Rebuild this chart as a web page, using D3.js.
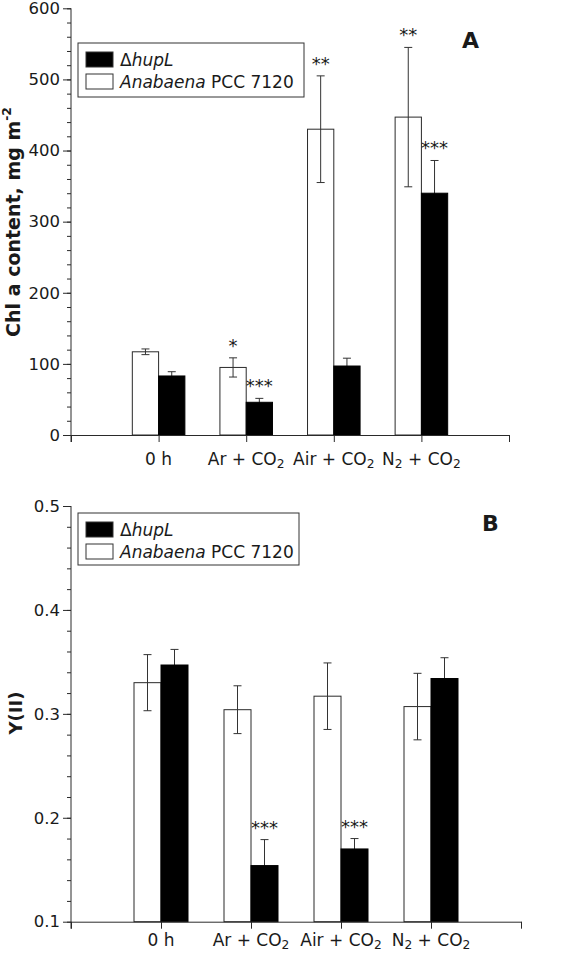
<!DOCTYPE html>
<html>
<head>
<meta charset="utf-8">
<script src="https://cdn.jsdelivr.net/npm/d3@7"></script>
<style>
  html, body { margin: 0; padding: 0; background: #fff; }
  svg { display: block; }
  text { font-family: "DejaVu Sans", sans-serif; fill: #1a1a1a; }
</style>
</head>
<body>
<svg id="chart" width="566" height="953"></svg>
<script>
// ---------- data ----------
const categories = ["0 h", "Ar + CO2", "Air + CO2", "N2 + CO2"];
const seriesNames = ["\u0394hupL", "Anabaena PCC 7120"];

// Panel A: Chl a content (mg m-2)
const chlWT = [117, 95, 430, 447];
const chlWTErr = [4, 13.5, 75, 98];
const chlHup = [83, 46, 97, 340];
const chlHupErr = [6, 5.5, 11, 46];
const chlStarsWT = ["", "*", "**", "**"];
const chlStarsHup = ["", "***", "", "***"];
const chlTicks = [0, 100, 200, 300, 400, 500, 600];

// Panel B: Y(II)
const yWT = [0.330, 0.304, 0.317, 0.307];
const yWTErr = [0.027, 0.023, 0.032, 0.032];
const yHup = [0.347, 0.154, 0.170, 0.334];
const yHupErr = [0.015, 0.025, 0.010, 0.020];
const yStarsWT = ["", "", "", ""];
const yStarsHup = ["", "***", "***", ""];
const yTicks = [0.1, 0.2, 0.3, 0.4, 0.5];

// ---------- drawing ----------
const svg = d3.select("#chart");
const AX = "#2a2a2a";

function addLabel(sel, str, fs) {
  const pieces = [];
  let buf = "";
  str.replace(/([A-Za-z])(\d)|([^])/g, (m, l, d, o) => {
    if (l) { buf += l; pieces.push({t: buf, sub: false}); buf = ""; pieces.push({t: d, sub: true}); }
    else buf += o;
    return m;
  });
  if (buf) pieces.push({t: buf, sub: false});
  let prevSub = false;
  pieces.forEach(p => {
    const ts = sel.append("tspan").text(p.t);
    if (p.sub) { ts.attr("font-size", fs * 0.72).attr("dy", fs * 0.15); prevSub = true; }
    else if (prevSub) { ts.attr("dy", -fs * 0.15); prevSub = false; }
  });
}

function panel(cfg) {
  const g = svg.append("g");
  const x = d3.scaleLinear().domain([0, 5]).range([cfg.x0, cfg.x1]);
  const y = d3.scaleLinear().domain(cfg.yDomain).range([cfg.yBottom, cfg.yTop]);
  const bw = (x(1) - x(0)) * 0.3;

  // minor y ticks
  const minor = d3.range(cfg.yDomain[0], cfg.yDomain[1] + cfg.minorStep / 2, cfg.minorStep);
  g.append("g").attr("transform", `translate(${cfg.x0},0)`)
    .call(d3.axisLeft(y).tickValues(minor).tickSize(4).tickFormat("").tickSizeOuter(0))
    .call(s => s.select(".domain").remove())
    .call(s => s.selectAll("line").attr("stroke", AX));

  // major y axis
  g.append("g").attr("transform", `translate(${cfg.x0},0)`)
    .call(d3.axisLeft(y).tickValues(cfg.ticks).tickSize(8).tickPadding(3).tickSizeOuter(0).tickFormat(cfg.fmt))
    .call(s => s.select(".domain").attr("stroke", AX).attr("d", `M0,${cfg.yBottom + 7}V${cfg.yTop}`))
    .call(s => s.selectAll("line").attr("stroke", AX))
    .call(s => s.selectAll("text").attr("font-size", 16.5).attr("font-family", "DejaVu Sans").attr("fill", "#1a1a1a"));

  const rows = categories.map((c, i) => ({i, wt: cfg.wt[i], wtE: cfg.wtE[i], hu: cfg.hu[i], huE: cfg.huE[i], sw: cfg.starsWT[i], sh: cfg.starsHup[i]}));

  // white bars
  g.append("g").selectAll("rect").data(rows).join("rect")
    .attr("x", d => x(d.i + 1) - bw).attr("width", bw)
    .attr("y", d => y(d.wt)).attr("height", d => y(cfg.yDomain[0]) - y(d.wt))
    .attr("fill", "#fff").attr("stroke", AX).attr("stroke-width", 1);

  // error bars
  const eb = [];
  rows.forEach(d => {
    eb.push({cx: x(d.i + 1) - bw / 2, v: d.wt, e: d.wtE, star: d.sw});
    eb.push({cx: x(d.i + 1) + bw / 2, v: d.hu, e: d.huE, star: d.sh});
  });
  const ebg = g.append("g").attr("stroke", "#333").attr("stroke-width", 1);
  eb.forEach(d => {
    ebg.append("line").attr("x1", d.cx).attr("x2", d.cx).attr("y1", y(d.v - d.e)).attr("y2", y(d.v + d.e));
    ebg.append("line").attr("x1", d.cx - 4).attr("x2", d.cx + 4).attr("y1", y(d.v + d.e)).attr("y2", y(d.v + d.e));
    ebg.append("line").attr("x1", d.cx - 4).attr("x2", d.cx + 4).attr("y1", y(d.v - d.e)).attr("y2", y(d.v - d.e));
  });

  // black bars (drawn over the lower half of their error bars)
  g.append("g").selectAll("rect").data(rows).join("rect")
    .attr("x", d => x(d.i + 1)).attr("width", bw)
    .attr("y", d => y(d.hu)).attr("height", d => y(cfg.yDomain[0]) - y(d.hu))
    .attr("fill", "#000").attr("stroke", "#000").attr("stroke-width", 1);

  g.append("g").selectAll("text").data(eb.filter(d => d.star)).join("text")
    .attr("x", d => d.cx).attr("y", d => y(d.v + d.e) - 6)
    .attr("text-anchor", "middle").attr("font-size", 18).text(d => d.star);

  // x axis
  g.append("g").attr("transform", `translate(0,${cfg.yBottom})`)
    .call(d3.axisBottom(x).tickValues([0, 1, 2, 3, 4, 5]).tickSize(7).tickSizeOuter(0).tickFormat(""))
    .call(s => s.select(".domain").attr("stroke", AX))
    .call(s => s.selectAll("line").attr("stroke", AX));
  categories.forEach((c, i) => {
    const t = g.append("text").attr("x", x(i + 1)).attr("y", cfg.xLabelY)
      .attr("text-anchor", "middle").attr("font-size", 17);
    addLabel(t, c, 17);
  });

  // y title
  const yt = g.append("text").attr("transform", `translate(${cfg.yTitleX},${cfg.yTitleY}) rotate(-90)`)
    .attr("text-anchor", "middle").attr("font-size", cfg.yTitleSize).attr("font-weight", "bold");
  if (cfg.yTitleSup) {
    yt.append("tspan").text(cfg.yTitle);
    yt.append("tspan").text(cfg.yTitleSup).attr("font-size", cfg.yTitleSize * 0.65).attr("dy", -cfg.yTitleSize * 0.45);
  } else yt.text(cfg.yTitle);

  // panel letter
  g.append("text").attr("x", cfg.letterX).attr("y", cfg.letterY).attr("font-size", 22)
    .attr("font-weight", "bold").text(cfg.letter);

  // legend
  const lg = g.append("g").attr("transform", `translate(${cfg.legX},${cfg.legY})`);
  lg.append("rect").attr("width", cfg.legW).attr("height", cfg.legH).attr("fill", "#fff").attr("stroke", "#333");
  const entries = [{fill: "#000", dy: 9}, {fill: "#fff", dy: 31}];
  entries.forEach((e, k) => {
    lg.append("rect").attr("x", 8).attr("y", e.dy).attr("width", 27).attr("height", 15)
      .attr("fill", e.fill).attr("stroke", "#333");
    const t = lg.append("text").attr("x", 42).attr("y", e.dy + 14).attr("font-size", 17);
    if (k === 0) {
      t.append("tspan").text(seriesNames[0].slice(0, 1));
      t.append("tspan").attr("font-style", "italic").text(seriesNames[0].slice(1));
    } else {
      const sp = seriesNames[1].indexOf(" ");
      t.append("tspan").attr("font-style", "italic").text(seriesNames[1].slice(0, sp));
      t.append("tspan").text(seriesNames[1].slice(sp));
    }
  });
}

panel({
  x0: 71, x1: 509, yTop: 8.3, yBottom: 435, yDomain: [0, 600], ticks: chlTicks, minorStep: 20,
  fmt: d3.format("d"),
  wt: chlWT, wtE: chlWTErr, hu: chlHup, huE: chlHupErr, starsWT: chlStarsWT, starsHup: chlStarsHup,
  xLabelY: 465, yTitle: "Chl a content, mg m", yTitleSup: "-2", yTitleX: 20, yTitleY: 222, yTitleSize: 19,
  letter: "A", letterX: 462, letterY: 48,
  legX: 78, legY: 43, legW: 226, legH: 54
});

panel({
  x0: 71, x1: 521, yTop: 506, yBottom: 921.7, yDomain: [0.1, 0.5], ticks: yTicks, minorStep: 0.02,
  fmt: d3.format(".1f"),
  wt: yWT, wtE: yWTErr, hu: yHup, huE: yHupErr, starsWT: yStarsWT, starsHup: yStarsHup,
  xLabelY: 946, yTitle: "Y(II)", yTitleSup: null, yTitleX: 22, yTitleY: 713, yTitleSize: 18,
  letter: "B", letterX: 482, letterY: 531,
  legX: 78, legY: 513, legW: 221, legH: 52
});
</script>
</body>
</html>
